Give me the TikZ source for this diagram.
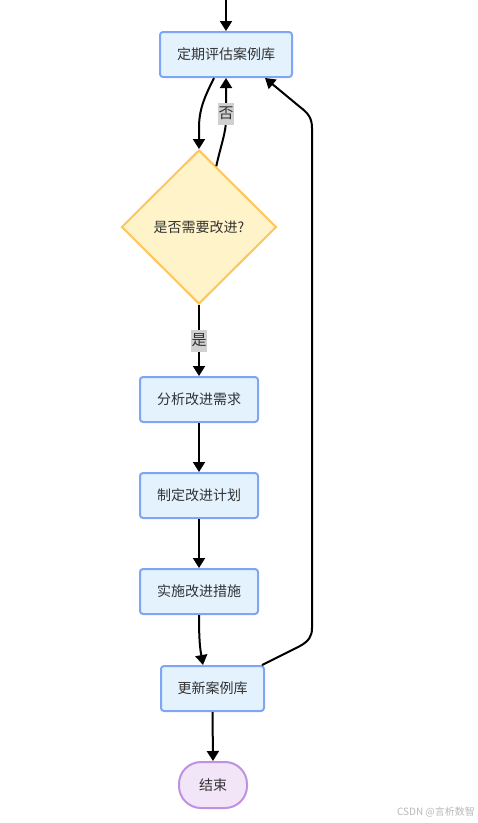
\documentclass[tikz,border=0pt]{standalone}
\usepackage{fontspec}
\setmainfont{Noto Sans CJK SC}
\usetikzlibrary{shapes.geometric,arrows.meta,calc}
\definecolor{boxfill}{HTML}{E3F2FD}
\definecolor{boxline}{HTML}{7EA6F4}
\definecolor{decfill}{HTML}{FFF4C9}
\definecolor{decline}{HTML}{FFC559}
\definecolor{endfill}{HTML}{F3E5F8}
\definecolor{endline}{HTML}{BE91E2}
\definecolor{lblbg}{HTML}{D0D0D0}
\definecolor{txt}{HTML}{333333}
\tikzset{
  procbox/.style={draw=boxline, fill=boxfill, line width=2pt, rounded corners=3pt,
    minimum height=45pt, inner sep=0pt, text=txt, font=\fontsize{14}{16}\selectfont},
  decbox/.style={diamond, draw=decline, fill=decfill, line width=2pt, minimum width=155pt,
    minimum height=154pt, inner sep=0pt, text=txt, font=\fontsize{14}{16}\selectfont},
  endbox/.style={draw=endline, fill=endfill, line width=2pt, rounded corners=22pt,
    minimum width=68pt, minimum height=46pt, inner sep=0pt, text=txt, font=\fontsize{14}{16}\selectfont},
  arr/.style={line width=2pt, -{Triangle[width=12pt,length=10pt]}},
  lbl/.style={fill=lblbg, inner xsep=0.5pt, inner ysep=0pt, minimum height=22pt, text=txt, font=\fontsize{15}{17}\selectfont},
}
\begin{document}
\begin{tikzpicture}[x=1pt,y=-1pt]
\useasboundingbox (0,0) rectangle (478,823);
\coordinate (start) at (226,0);
\node[procbox, minimum width=132pt] (b1) at (226,54.5) {定期评估案例库};
\node[decbox] (d) at (199,227) {是否需要改进?};
\node[procbox, minimum width=118pt] (b2) at (199,399.5) {分析改进需求};
\node[procbox, minimum width=118pt] (b3) at (199,495.5) {制定改进计划};
\node[procbox, minimum width=118pt] (b4) at (199,591.5) {实施改进措施};
\node[procbox, minimum width=103pt] (b5) at (212.5,688.5) {更新案例库};
\node[endbox] (e) at (213,785) {结束};
\node[text=black!28, font=\fontsize{10}{12}\selectfont] (wm) at (436,812) {CSDN @言析数智};

\draw[arr] (start) -- (b1.north);
\draw[arr] ([xshift=-12pt]b1.south) .. controls (204,98) and (199,110) .. (199,128) -- (d.north);
\draw[arr] ($(d.north)!0.22!(d.east)$) .. controls (221,145) and (226,132) .. (226,120)
  -- node[lbl, pos=0.15] {否} (b1.south);
\draw[arr] (d.south) -- node[lbl, pos=0.5] {是} (b2.north);
\draw[arr] (b2.south) -- (b3.north);
\draw[arr] (b3.south) -- (b4.north);
\draw[arr] (b4.south) .. controls (199,640) and (200,648) .. ([xshift=-9.5pt]b5.north);
\draw[arr] (b5.south) -- (e.north);
\draw[arr] ([xshift=-3pt]b5.north east) -- (300,646) .. controls (309,641) and (312,636) .. (312,628)
  -- (312,128) .. controls (312,118) and (308,113) .. (300,107) -- ([xshift=39pt]b1.south);
\end{tikzpicture}
\end{document}
